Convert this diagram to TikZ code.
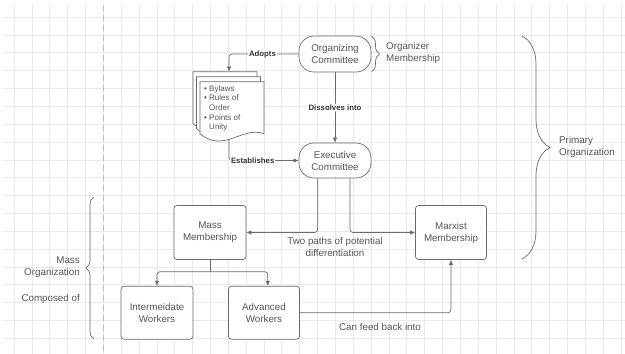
\documentclass[tikz,border=0pt]{standalone}
\usepackage{fontspec}
\setmainfont{Liberation Sans}
\usetikzlibrary{arrows.meta,decorations.pathreplacing,calc}
\definecolor{linegray}{HTML}{6B6B6B}
\definecolor{textgray}{HTML}{555555}
\definecolor{boldgray}{HTML}{333333}
\definecolor{gridgray}{HTML}{E8E8E8}
\definecolor{dashgray}{HTML}{BDBDBD}
\begin{document}
\begin{tikzpicture}[x=1pt,y=-1pt,
  box/.style={draw=linegray, line width=0.7pt, fill=white, minimum width=72pt, minimum height=54pt,
    rounded corners=3pt, align=center, text=textgray, font=\fontsize{9.8}{12}\selectfont, inner sep=0pt},
  pill/.style={box, minimum height=36pt, rounded corners=15pt},
  conn/.style={draw=linegray, line width=0.7pt, rounded corners=3pt, -{Latex[length=5pt,width=4.5pt]}},
  blabel/.style={font=\bfseries\fontsize{7.8}{9}\selectfont, text=boldgray, fill=white, inner sep=1pt},
  txt/.style={font=\fontsize{9.8}{12}\selectfont, text=textgray, inner sep=0pt},
  bracestyle/.style={draw=linegray, line width=0.7pt, decorate, decoration={brace, amplitude=#1}},
  docpage/.style={draw=linegray, line width=0.7pt, fill=white},
  gridline/.style={draw=gridgray, line width=0.6pt}
]
\useasboundingbox (0,0) rectangle (625,354);
\fill[white] (0,0) rectangle (625,354);
% grid
\begin{scope}
  \clip (3,5) rectangle (625,354);
  \foreach \i in {0,...,34} \draw[gridline] ({14+17.85*\i},5) -- ({14+17.85*\i},354);
  \foreach \j in {0,...,18} \draw[gridline] (3,{17+17.85*\j}) -- (625,{17+17.85*\j});
\end{scope}
% dashed separator
\draw[dashgray, line width=0.9pt, dash pattern=on 6pt off 4pt] (103,5) -- (103,354);

% nodes
\node[pill] (org) at (335,54) {Organizing\\Committee};
\node[pill, minimum height=35pt] (exe) at (335,160.5) {Executive\\Committee};
\node[box] (mass) at (210,232.5) {Mass\\Membership};
\node[box, minimum width=71pt] (marx) at (451,232.5) {Marxist\\Membership};
\node[box, minimum height=53pt] (inter) at (157,312.7) {Intermeidate\\Workers};
\node[box, minimum width=71pt, minimum height=53pt] (adv) at (264,312.7) {Advanced\\Workers};

% document stack
\foreach \dx/\dy in {193/71.7, 196.5/76.7, 200/81.7} {
  \draw[docpage] (\dx,\dy) -- ({\dx+64},\dy) -- ({\dx+64},{\dy+52})
    .. controls ({\dx+42},{\dy+44}) and ({\dx+24},{\dy+72}) .. (\dx,{\dy+52}) -- cycle;
}
\node[anchor=north west, align=left, inner sep=0pt, text=textgray, font=\fontsize{8}{9.6}\selectfont] (doctext) at (204,85.3)
  {\textbullet\ Bylaws\\\textbullet\ Rules of\\\hphantom{\textbullet\ }Order\\\textbullet\ Points of\\\hphantom{\textbullet\ }Unity};
\coordinate (doct) at (229,71.5);
\coordinate (docb) at (229,139.5);

% connectors
\draw[conn] (org.west) -| node[blabel, pos=0.26] {Adopts} (doct);
\draw[conn] (org.south) -- node[blabel] {Dissolves into} (exe.north);
\draw[conn] (docb) |- node[blabel, pos=0.67] {Establishes} (exe.west);
\draw[conn] ([xshift=-17.3pt]exe.south) |- (mass.east);
\draw[conn] ([xshift=15pt]exe.south) |- (marx.west);
\node[txt, align=center] (paths) at (335,246.5) {Two paths of potential\\differentiation};
\coordinate (split) at (210,271.7);
\draw[draw=linegray, line width=0.7pt] (mass.south) -- (split);
\draw[conn] (split) -| (inter.north);
\draw[conn] (split) -| ([xshift=3.8pt]adv.north);
\draw[conn] (adv.east) -| (marx.south);
\node[txt] (feed) at (380,326.5) {Can feed back into};

% braces and side labels
\draw[bracestyle=8pt] (371.5,36) -- (371.5,72);
\node[txt, anchor=west, align=left] (orgmem) at (386,52.5) {Organizer\\Membership};
\draw[bracestyle=28pt] (522,36) -- (522,259);
\node[txt, anchor=west, align=left] (primary) at (559,147) {Primary\\Organization};
\draw[bracestyle=8pt] (94,339) -- (94,197);
\node[txt, anchor=east, align=right] (massorg) at (80,267) {Mass\\Organization};
\node[txt, anchor=east] (composed) at (80,298.5) {Composed of};
\end{tikzpicture}
\end{document}
